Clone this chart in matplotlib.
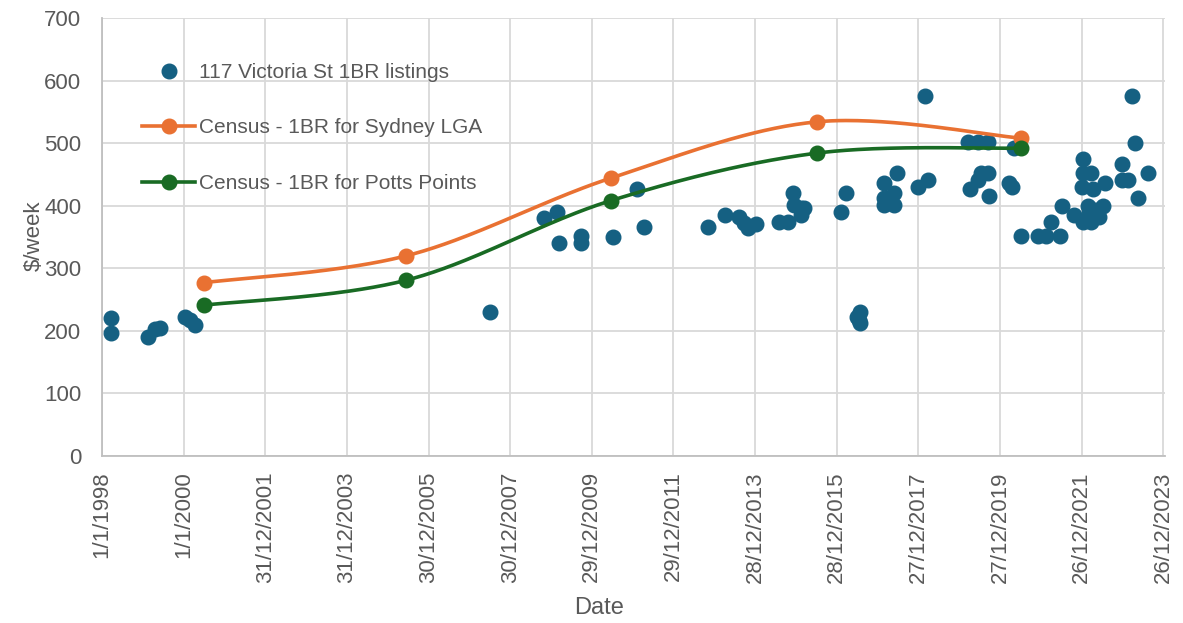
import numpy as np
import matplotlib
matplotlib.use("Agg")
import matplotlib.pyplot as plt
import matplotlib.dates as mdates
from datetime import date

# Listings at 117 Victoria St (1BR), $/week
listing_dates = [
    "1998-03-20", "1998-03-20", "1999-02-17", "1999-04-19", "1999-06-03",
    "2000-01-12", "2000-02-28", "2000-04-12",
    "2007-07-05", "2008-10-23", "2009-02-17", "2009-03-08", "2009-09-20",
    "2009-09-20", "2010-07-10", "2011-02-09", "2011-04-12",
    "2012-11-06", "2013-04-07", "2013-08-03", "2013-09-17", "2013-10-23",
    "2014-01-01", "2014-07-26", "2014-10-15", "2014-11-28", "2014-12-09",
    "2015-02-10", "2015-03-07", "2015-02-10",
    "2016-02-03", "2016-03-19", "2016-06-25", "2016-07-20", "2016-07-20",
    "2016-07-10",
    "2017-02-21", "2017-02-21", "2017-02-21", "2017-06-17", "2017-05-22",
    "2017-05-22", "2017-03-29", "2018-02-24", "2017-12-24", "2018-03-23",
    "2019-03-14", "2019-06-13", "2019-09-10", "2019-04-01", "2019-06-13",
    "2019-07-09", "2019-09-10", "2019-09-20",
    "2020-03-18", "2020-04-12", "2020-05-01",
    "2020-07-02", "2020-12-02", "2021-02-10", "2021-06-17", "2021-03-28",
    "2021-07-02", "2021-10-19",
    "2022-01-08", "2022-01-08", "2022-01-08", "2022-03-20", "2022-03-20",
    "2022-05-30", "2022-01-01", "2022-04-05", "2022-07-24", "2022-02-21",
    "2022-07-05", "2022-05-04", "2022-03-02",
    "2022-12-24", "2022-12-24", "2023-02-14", "2023-03-20", "2023-04-15",
    "2023-08-11", "2023-05-16",
]
listing_rent = [
    221, 197, 190, 203, 205,
    222, 217, 209,
    230, 380, 390, 340, 352,
    340, 350, 427, 366,
    366, 385, 382, 372, 364,
    371, 374, 374, 420, 401,
    396, 396, 385,
    390, 420, 222, 230, 212,
    218,
    436, 412, 401, 452, 420,
    401, 409, 575, 430, 441,
    502, 502, 502, 427, 441,
    452, 452, 416,
    436, 430, 492,
    352, 352, 352, 352, 374,
    400, 385,
    374, 475, 452, 374, 452,
    382, 430, 427, 436, 400,
    400, 393, 388,
    467, 441, 441, 575, 500,
    452, 412,
]

# Census medians (1BR)
census_dates = ["2000-06-30", "2005-06-15", "2010-06-15", "2015-06-30", "2020-06-30"]
census_sydney_lga = [277, 320, 444, 534, 508]
census_potts_point = [241, 281, 408, 484, 492]

tick_labels = ["1/1/1998", "1/1/2000", "31/12/2001", "31/12/2003", "30/12/2005",
               "30/12/2007", "29/12/2009", "29/12/2011", "28/12/2013",
               "28/12/2015", "27/12/2017", "27/12/2019", "26/12/2021",
               "26/12/2023"]

BLUE = "#156082"
ORANGE = "#E97132"
GREEN = "#196B24"
GRID = "#D9D9D9"
TEXT = "#595959"

plt.rcParams["font.family"] = ["Liberation Sans", "DejaVu Sans"]


def to_num(ds):
    return mdates.datestr2num(ds)


def parse_label(s):
    d, m, y = (int(v) for v in s.split("/"))
    return mdates.date2num(date(y, m, d))


def smooth(xs, ys, n=60):
    """Piecewise cubic Bezier through points (Catmull-Rom style)."""
    xs = np.asarray(xs, float)
    ys = np.asarray(ys, float)
    px, py = [], []
    k = len(xs)
    for i in range(k - 1):
        x0, y0 = (xs[i - 1], ys[i - 1]) if i > 0 else (xs[i], ys[i])
        x1, y1 = xs[i], ys[i]
        x2, y2 = xs[i + 1], ys[i + 1]
        x3, y3 = (xs[i + 2], ys[i + 2]) if i + 2 < k else (x2, y2)
        c1x, c1y = x1 + (x2 - x0) / 6, y1 + (y2 - y0) / 6
        c2x, c2y = x2 - (x3 - x1) / 6, y2 - (y3 - y1) / 6
        t = np.linspace(0, 1, n)
        bx = (1 - t) ** 3 * x1 + 3 * (1 - t) ** 2 * t * c1x + 3 * (1 - t) * t ** 2 * c2x + t ** 3 * x2
        by = (1 - t) ** 3 * y1 + 3 * (1 - t) ** 2 * t * c1y + 3 * (1 - t) * t ** 2 * c2y + t ** 3 * y2
        px.extend(bx)
        py.extend(by)
    return np.array(px), np.array(py)


fig = plt.figure(figsize=(11.83, 6.23), dpi=100)
ax = fig.add_axes([102 / 1183, 1 - 456 / 623, (1165 - 102) / 1183, (456 - 18) / 623])

lx = to_num(listing_dates)
ax.plot(lx, listing_rent, linestyle="none", marker="o", markersize=10.5,
        color=BLUE, label="117 Victoria St 1BR listings", zorder=3)

cx = to_num(census_dates)
for vals, col, lab in [(census_sydney_lga, ORANGE, "Census - 1BR for Sydney LGA"),
                       (census_potts_point, GREEN, "Census - 1BR for Potts Points")]:
    sx, sy = smooth(cx, vals)
    ax.plot(sx, sy, color=col, linewidth=2.6, zorder=4, solid_capstyle="round")
    ax.plot(cx, vals, linestyle="none", marker="o", markersize=10.5, color=col, zorder=5)
    ax.plot([], [], color=col, linewidth=2.6, marker="o", markersize=10.5, label=lab)

ticks = [parse_label(s) for s in tick_labels]
ax.set_xlim(ticks[0], ticks[-1] + 15)
ax.set_xticks(ticks)
ax.set_xticklabels(tick_labels, rotation=90, fontsize=16, color=TEXT)
ax.set_ylim(0, 700)
ax.set_yticks(np.arange(0, 701, 100))
ax.tick_params(axis="y", labelsize=16, labelcolor=TEXT, length=0, pad=15)
ax.tick_params(axis="x", length=0, pad=11)

ax.grid(True, color=GRID, linewidth=1.3)
ax.set_axisbelow(True)
for side in ["top", "right"]:
    ax.spines[side].set_visible(False)
for side in ["left", "bottom"]:
    ax.spines[side].set_color("#BFBFBF")
    ax.spines[side].set_linewidth(1.3)

ax.set_xlabel("Date", fontsize=17, color=TEXT)
ax.xaxis.set_label_coords((599 - 102) / 1063, -(608 - 456) / 438)
ax.set_ylabel("$/week", fontsize=16, color=TEXT)
ax.yaxis.set_label_coords(-(102 - 34) / 1063, (456 - 236) / 438)
ax.xaxis.label.set_va("center")
ax.yaxis.label.set_va("center")

leg = ax.legend(loc="upper left", bbox_to_anchor=(0.02, 0.94), frameon=False,
                fontsize=15, labelspacing=1.75, handlelength=2.55, handletextpad=0.2,
                labelcolor=TEXT)

fig.savefig("out.png", dpi=100)
